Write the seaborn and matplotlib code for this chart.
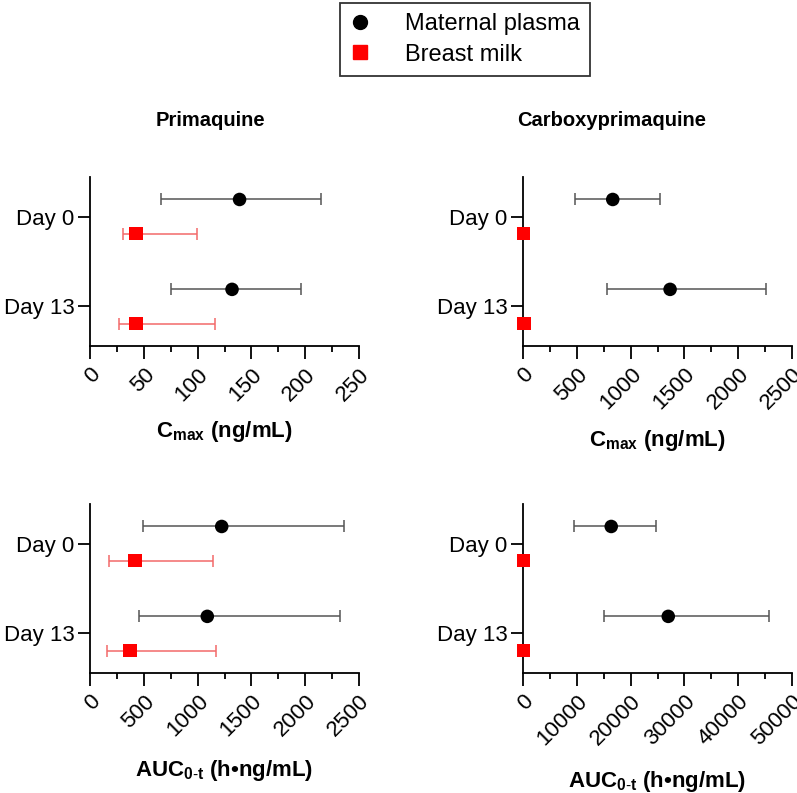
import numpy as np
import pandas as pd
import matplotlib
matplotlib.use("Agg")
import matplotlib.pyplot as plt
from matplotlib.lines import Line2D
from matplotlib.ticker import MultipleLocator
import seaborn as sns

# summary values: point estimate and interval (low, high)
days = ["Day 0", "Day 13"]
groups = ["Maternal plasma", "Breast milk"]

pq_cmax_plasma = [139, 132]
pq_cmax_plasma_lo = [66, 75]
pq_cmax_plasma_hi = [215, 196]
pq_cmax_milk = [43, 43]
pq_cmax_milk_lo = [31, 27]
pq_cmax_milk_hi = [99, 116]

cpq_cmax_plasma = [834, 1367]
cpq_cmax_plasma_lo = [484, 781]
cpq_cmax_plasma_hi = [1274, 2254]
cpq_cmax_milk = [5, 8]
cpq_cmax_milk_lo = [5, 8]
cpq_cmax_milk_hi = [5, 8]

pq_auc_plasma = [1224, 1090]
pq_auc_plasma_lo = [495, 452]
pq_auc_plasma_hi = [2361, 2327]
pq_auc_milk = [418, 372]
pq_auc_milk_lo = [180, 161]
pq_auc_milk_hi = [1146, 1171]

cpq_auc_plasma = [16400, 27000]
cpq_auc_plasma_lo = [9550, 15130]
cpq_auc_plasma_hi = [24750, 45770]
cpq_auc_milk = [60, 90]
cpq_auc_milk_lo = [60, 90]
cpq_auc_milk_hi = [60, 90]

sns.set_style("ticks")
plt.rcParams["font.family"] = ["Liberation Sans", "DejaVu Sans"]
plt.rcParams["mathtext.fontset"] = "custom"
plt.rcParams["mathtext.rm"] = "Liberation Sans"
plt.rcParams["mathtext.bf"] = "Liberation Sans:bold"
plt.rcParams["text.color"] = "black"
plt.rcParams["axes.labelcolor"] = "black"
plt.rcParams["xtick.color"] = "black"
plt.rcParams["ytick.color"] = "black"
plt.rcParams["axes.edgecolor"] = "black"

colors = {"Maternal plasma": "black", "Breast milk": "#ff0000"}
bar_colors = {"Maternal plasma": "#555555", "Breast milk": "#f26a6a"}
markers = {"Maternal plasma": "o", "Breast milk": "s"}
offset = {"Maternal plasma": -0.19, "Breast milk": 0.19}


def make_df(pl, pl_lo, pl_hi, mk, mk_lo, mk_hi):
    rows = []
    for i, d in enumerate(days):
        rows.append((d, i, "Maternal plasma", pl[i], pl_lo[i], pl_hi[i]))
        rows.append((d, i, "Breast milk", mk[i], mk_lo[i], mk_hi[i]))
    df = pd.DataFrame(rows, columns=["day", "idx", "group", "val", "lo", "hi"])
    df["ypos"] = df["idx"] + df["group"].map(offset)
    return df


panels = [
    (make_df(pq_cmax_plasma, pq_cmax_plasma_lo, pq_cmax_plasma_hi,
             pq_cmax_milk, pq_cmax_milk_lo, pq_cmax_milk_hi),
     r"$\mathbf{C_{max}}$ (ng/mL)", 250, 50, 10),
    (make_df(cpq_cmax_plasma, cpq_cmax_plasma_lo, cpq_cmax_plasma_hi,
             cpq_cmax_milk, cpq_cmax_milk_lo, cpq_cmax_milk_hi),
     r"$\mathbf{C_{max}}$ (ng/mL)", 2500, 500, 10),
    (make_df(pq_auc_plasma, pq_auc_plasma_lo, pq_auc_plasma_hi,
             pq_auc_milk, pq_auc_milk_lo, pq_auc_milk_hi),
     r"$\mathbf{AUC_{0\text{-}t}}$ (h•ng/mL)", 2500, 500, 12),
    (make_df(cpq_auc_plasma, cpq_auc_plasma_lo, cpq_auc_plasma_hi,
             cpq_auc_milk, cpq_auc_milk_lo, cpq_auc_milk_hi),
     r"$\mathbf{AUC_{0\text{-}t}}$ (h•ng/mL)", 50000, 10000, 14),
]

fig = plt.figure(figsize=(7.97, 7.93), dpi=100)
W, H = 797, 793
boxes = [(90, 177), (523, 177), (90, 504), (523, 504)]
aw, ah = 269, 169

for (df, xlabel, xmax, step, lpad), (px, py) in zip(panels, boxes):
    ax = fig.add_axes([px / W, 1 - (py + ah) / H, aw / W, ah / H])
    for g in groups:
        sub = df[df["group"] == g]
        ax.errorbar(sub["val"], sub["ypos"],
                    xerr=[sub["val"] - sub["lo"], sub["hi"] - sub["val"]],
                    fmt="none", ecolor=bar_colors[g], elinewidth=1.1,
                    capsize=4.5, capthick=1.1, zorder=2)
    sns.scatterplot(data=df, x="val", y="ypos", hue="group", style="group",
                    palette=colors, markers=markers, s=95, linewidth=0,
                    legend=False, ax=ax, zorder=3, clip_on=False)
    ax.set_xlim(0, xmax)
    ax.set_ylim(1.44, -0.44)
    ax.set_yticks(range(len(days)))
    ax.set_yticklabels(days, fontsize=16)
    ax.xaxis.set_major_locator(MultipleLocator(step))
    ax.xaxis.set_minor_locator(MultipleLocator(step / 2))
    ax.tick_params(axis="x", which="major", length=9, width=1.3,
                   labelsize=16, pad=4)
    ax.tick_params(axis="x", which="minor", length=4.5, width=1.3)
    ax.tick_params(axis="y", length=9, width=1.3, pad=2)
    for lbl in ax.get_xticklabels():
        lbl.set_rotation(45)
        lbl.set_ha("right")
        lbl.set_rotation_mode("anchor")
    ax.set_xlabel(xlabel, fontsize=16, fontweight="bold", labelpad=lpad)
    ax.set_ylabel("")
    for s in ["left", "bottom"]:
        ax.spines[s].set_linewidth(1.3)
    sns.despine(ax=ax)

fig.text(210 / W, 1 - 121 / H, "Primaquine", fontsize=14.5, fontweight="bold",
         ha="center", va="center")
fig.text(612 / W, 1 - 121 / H, "Carboxyprimaquine", fontsize=14.5,
         fontweight="bold", ha="center", va="center")

handles = [Line2D([], [], ls="none", marker=markers[g], color=colors[g],
                  markersize=10) for g in groups]
leg = fig.legend(handles, groups, loc="upper center",
                 bbox_to_anchor=(465 / W, 1 - 0.5 / H), fontsize=17,
                 frameon=True, fancybox=False, edgecolor="black",
                 handletextpad=1.5, handlelength=0.8, borderpad=0.45,
                 labelspacing=0.35, borderaxespad=0.1)
leg.get_frame().set_linewidth(1.3)

fig.savefig("out.png", dpi=100)
